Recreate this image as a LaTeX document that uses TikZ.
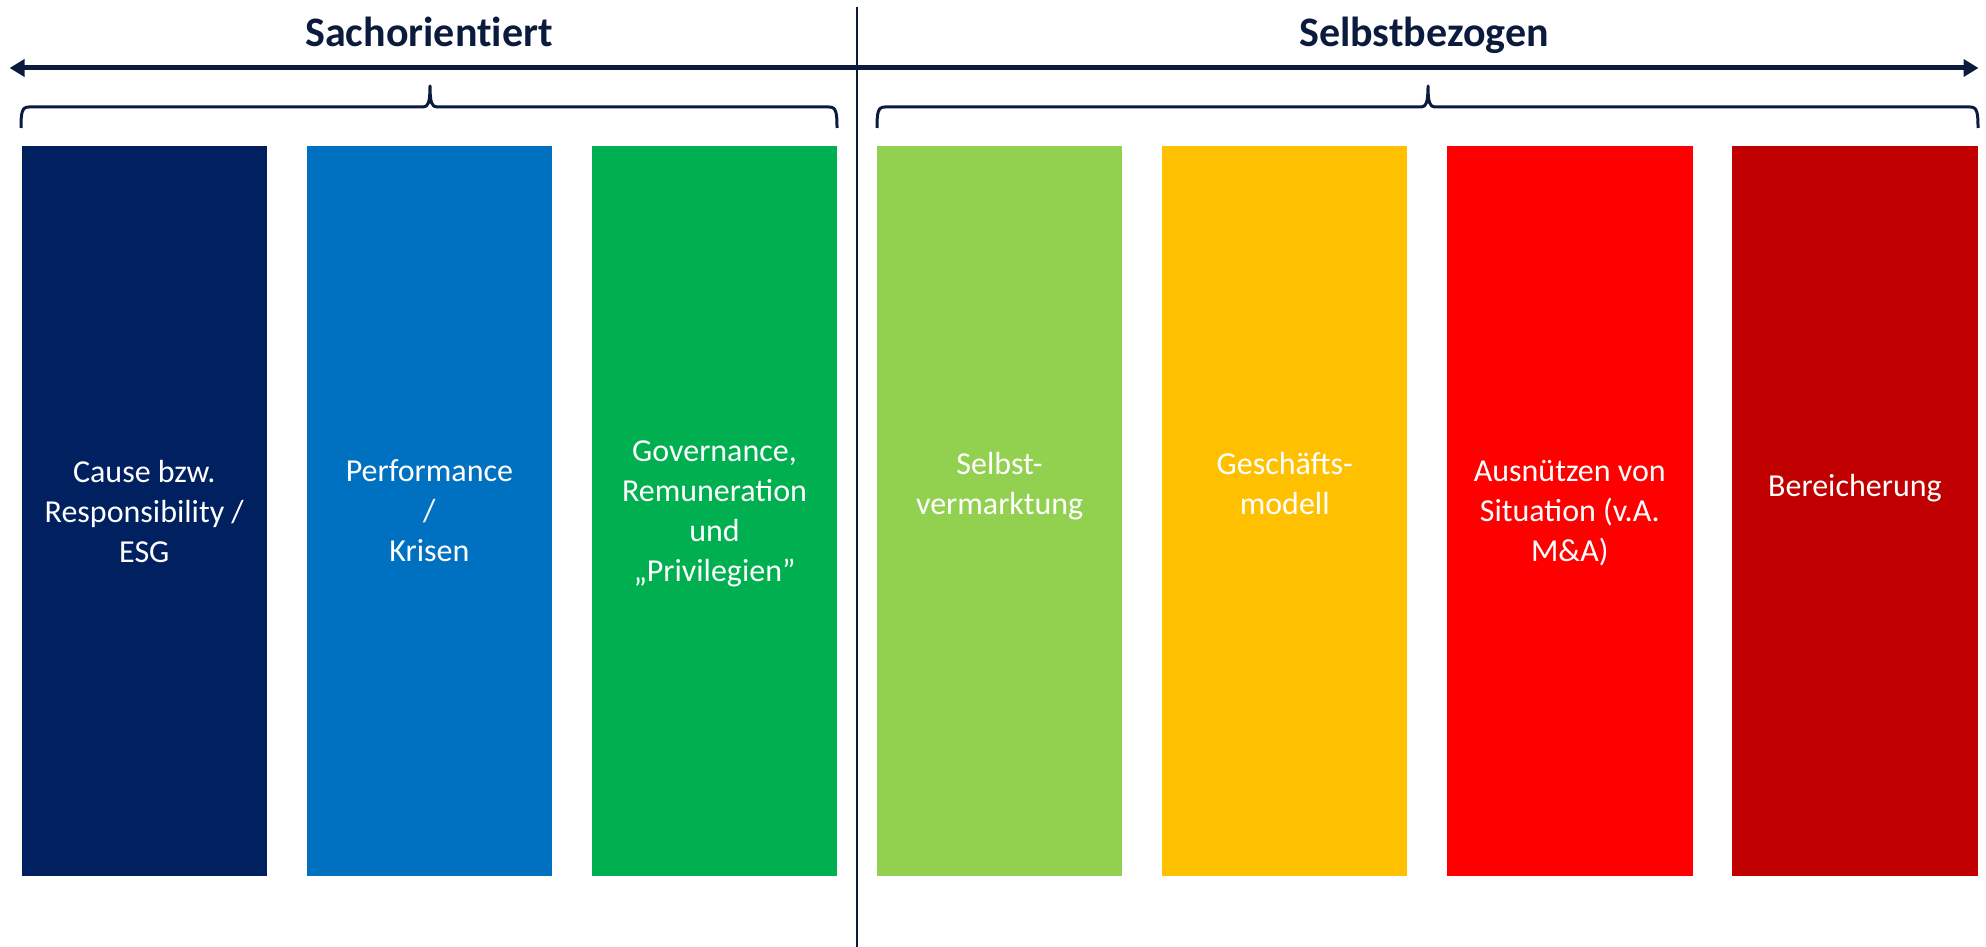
\documentclass[tikz,border=0pt]{standalone}
\usepackage{fontspec}
\setmainfont{Carlito}
\usetikzlibrary{arrows.meta}

\definecolor{ink}{HTML}{0B1B3D}
\definecolor{cNavy}{HTML}{002060}
\definecolor{cBlue}{HTML}{0070C0}
\definecolor{cGreen}{HTML}{00B050}
\definecolor{cLime}{HTML}{92D050}
\definecolor{cAmber}{HTML}{FFC000}
\definecolor{cRed}{HTML}{FF0000}
\definecolor{cDarkRed}{HTML}{C00000}

\tikzset{
  colbox/.style={draw=none, rectangle, inner sep=0pt,
    minimum width=245.5pt, minimum height=730pt},
  boxtext/.style={text=white, align=center, inner sep=0pt,
    font=\fontsize{32}{40}\selectfont,
    execute at begin node=\strut, execute at end node=\strut},
  headline/.style={text=ink, inner sep=0pt, anchor=base,
    font=\fontsize{42}{50}\selectfont\bfseries\addfontfeature{Ligatures=NoCommon}},
  axisarrow/.style={draw=ink, line width=5pt,
    {Triangle[length=15pt,width=17pt]}-{Triangle[length=15pt,width=17pt]}},
  divider/.style={draw=ink, line width=2.6pt},
  bracket/.style={draw=ink, line width=3pt, line join=round}
}

\begin{document}
\begin{tikzpicture}[x=1pt, y=-1pt]
  \useasboundingbox (0,0) rectangle (1986,947);

  % headings
  \node[headline] (hSach) at (429,47) {Sachorientiert};
  \node[headline] (hSelbst) at (1424,47) {Selbstbezogen};

  % axis arrow and divider
  \coordinate (arrL) at (9.6,68);
  \coordinate (arrR) at (1978.5,68);
  \draw[axisarrow] (arrL) -- (arrR);
  \coordinate (divT) at (857,7);
  \coordinate (divB) at (857,947);
  \draw[divider] (divT) -- (divB);

  % braces over the two groups
  \draw[bracket] (21,128) .. controls (21,112) and (22,107) .. (29,107)
    -- (423,107) .. controls (428,107) and (430,103) .. (430,86)
    .. controls (430,103) and (432,107) .. (437,107)
    -- (829,107) .. controls (836,107) and (837,112) .. (837,128);
  \draw[bracket] (877,128) .. controls (877,112) and (878,107) .. (885,107)
    -- (1421,107) .. controls (1426,107) and (1428,103) .. (1428,86)
    .. controls (1428,103) and (1430,107) .. (1435,107)
    -- (1970,107) .. controls (1977,107) and (1978,112) .. (1978,128);

  % columns
  \node[colbox, fill=cNavy]    (b1) at (144.3,511) {};
  \node[colbox, fill=cBlue]    (b2) at (429.4,511) {};
  \node[colbox, fill=cGreen]   (b3) at (714.5,511) {};
  \node[colbox, fill=cLime]    (b4) at (999.6,511) {};
  \node[colbox, fill=cAmber]   (b5) at (1284.7,511) {};
  \node[colbox, fill=cRed]     (b6) at (1569.8,511) {};
  \node[colbox, fill=cDarkRed] (b7) at (1854.9,511) {};

  % column labels
  \node[boxtext] (t1) at (144.3,517) {Cause bzw.\\Responsibility /\\ESG};
  \node[boxtext] (t2) at (429.4,517) {Performance\\/\\Krisen};
  \node[boxtext] (t3) at (714.5,517) {Governance,\\Remuneration\\und\\„Privilegien”};
  \node[boxtext] (t4) at (999.6,489) {Selbst-\\vermarktung};
  \node[boxtext] (t5) at (1284.7,489) {Geschäfts-\\modell};
  \node[boxtext] (t6) at (1569.8,517) {Ausnützen von\\Situation (v.A.\\M\&A)};
  \node[boxtext] (t7) at (1854.9,488) {Bereicherung};
\end{tikzpicture}
\end{document}
